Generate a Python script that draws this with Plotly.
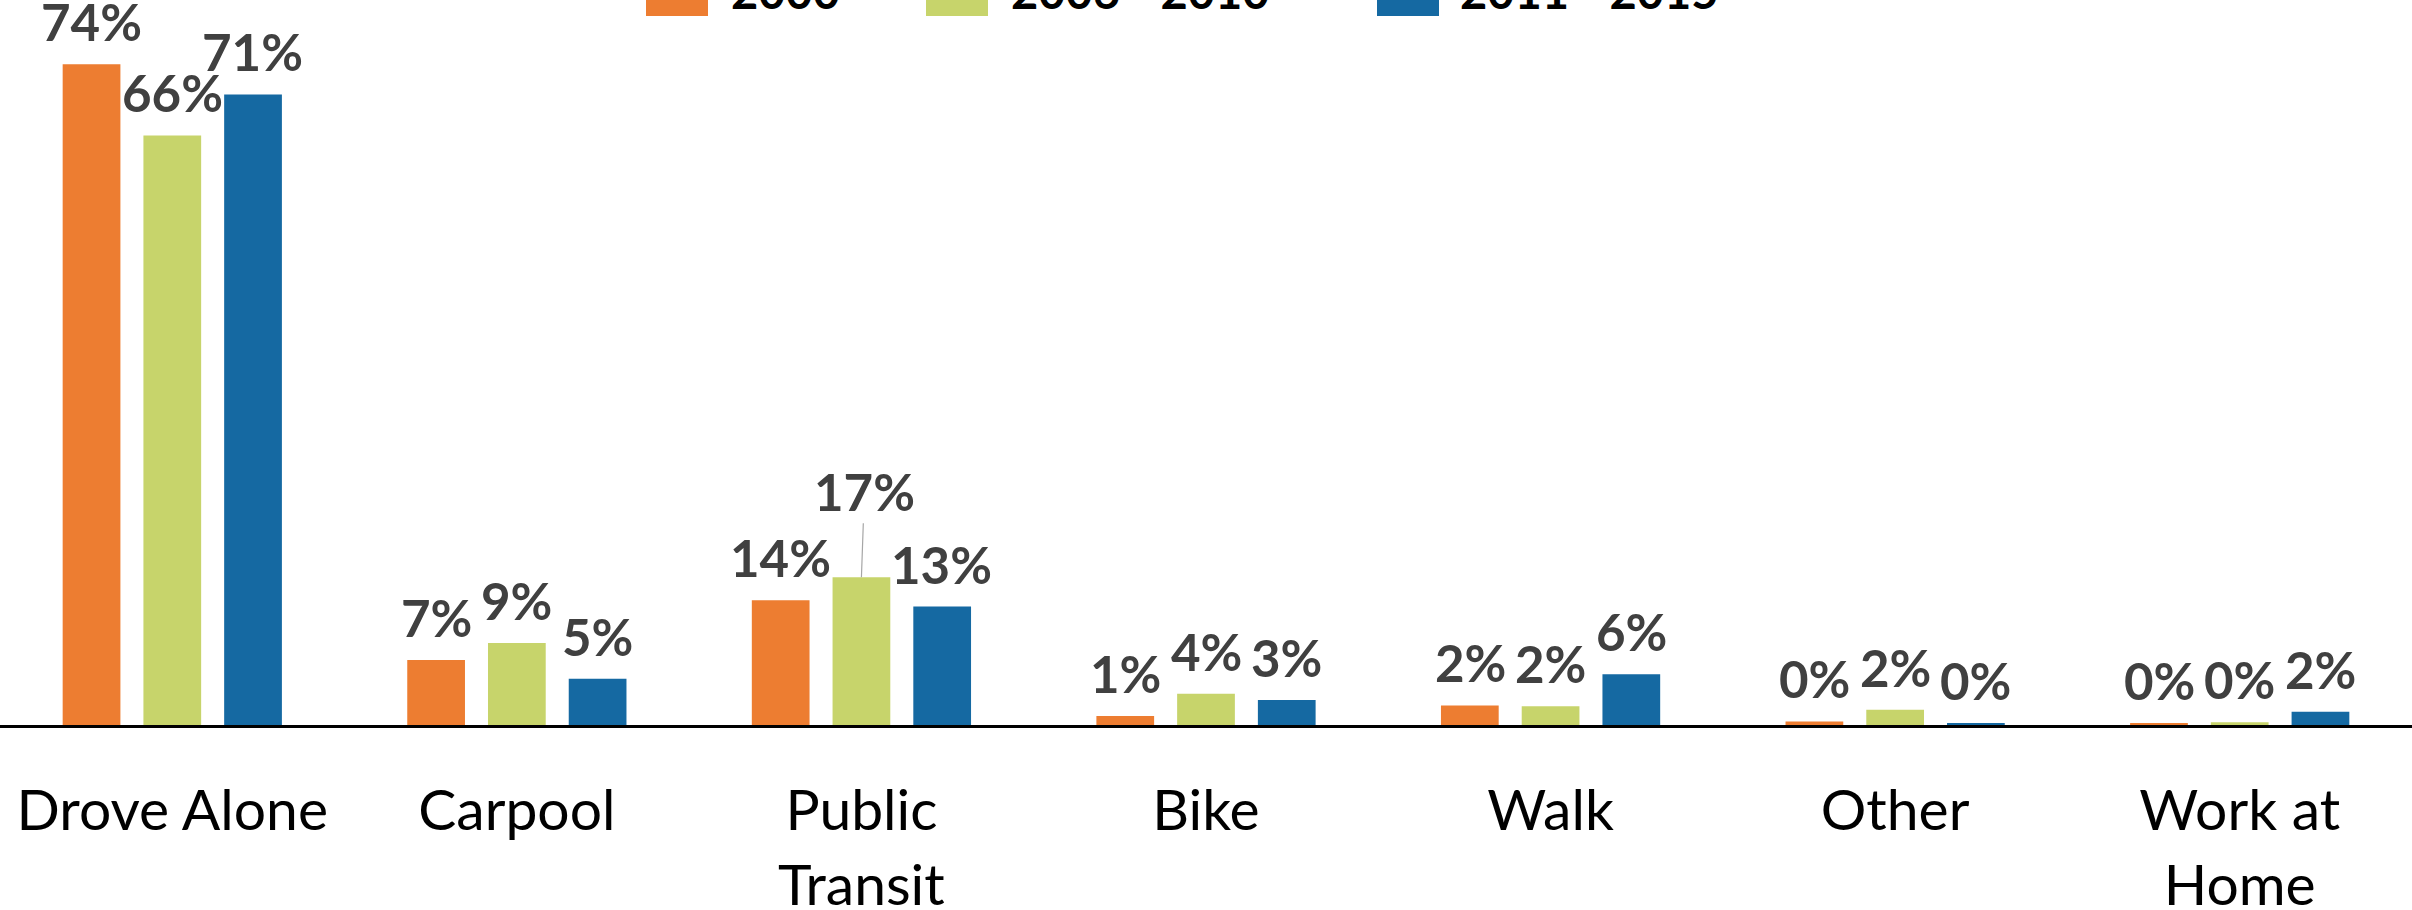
import plotly.graph_objects as go

categories = ["Drove Alone", "Carpool", "Public<br>Transit", "Bike", "Walk", "Other", "Work at<br>Home"]
series_names = ["2000", "2006 - 2010", "2011 - 2015"]
vals_2000 = [74.2, 7.3, 14.0, 1.0, 2.2, 0.4, 0.2]
vals_2010 = [66.2, 9.2, 16.6, 3.5, 2.1, 1.7, 0.3]
vals_2015 = [70.8, 5.2, 13.3, 2.8, 5.7, 0.2, 1.5]
colors = ["#ED7D31", "#C7D46B", "#1569A2"]

W, H = 2412, 910
slot = 80.5  # px between bars inside a group
label_font = dict(family="Lato", size=51, color="#404040")

fig = go.Figure()

all_vals = [vals_2000, vals_2010, vals_2015]
for i, (name, vals, col) in enumerate(zip(series_names, all_vals, colors)):
    fig.add_trace(go.Bar(
        x=categories, y=vals, name=name,
        marker=dict(color=col, line=dict(width=0)),
        showlegend=False,
    ))
    # data labels, a bit above the bar like Excel does
    for j, v in enumerate(vals):
        if i == 1 and j == 2:
            # this one was dragged up and has a leader line
            fig.add_annotation(
                x=categories[j], y=v, text="<b>%.0f%%</b>" % v, font=label_font,
                showarrow=True, arrowhead=0, arrowwidth=1.2, arrowcolor="#A6A6A6",
                ax=3, ay=-86,
            )
            continue
        fig.add_annotation(
            x=categories[j], y=v, xshift=(i - 1) * slot, yshift=10,
            yanchor="bottom", text="<b>%.0f%%</b>" % v, font=label_font,
            showarrow=False,
        )

# legend (mostly above the visible page)
leg_sq = [646, 926, 1377]
leg_tx = [729, 1009, 1458]
for name, col, sx, tx in zip(series_names, colors, leg_sq, leg_tx):
    fig.add_shape(
        type="rect", xref="paper", yref="paper",
        x0=sx / W, x1=(sx + 62) / W,
        ysizemode="pixel", yanchor=1, y0=-16, y1=47,
        fillcolor=col, line=dict(width=0),
    )
    fig.add_annotation(
        x=tx / W, y=1, xref="paper", yref="paper",
        xanchor="left", yanchor="bottom", yshift=-21,
        text="<b>" + name + "</b>", showarrow=False,
        font=dict(family="Lato", size=47, color="black"),
    )

fig.update_layout(
    width=W, height=H,
    barmode="group", bargap=0.297, bargroupgap=0.285,
    plot_bgcolor="white", paper_bgcolor="white",
    margin=dict(l=0, r=0, t=0, b=185),
)
fig.update_xaxes(
    showline=True, linecolor="black", linewidth=3, automargin=False,
    ticks="", tickfont=dict(family="Lato", size=57, color="black"),
    ticklabelstandoff=34,
)
fig.update_yaxes(visible=False, range=[0, 81.4], automargin=False)

fig.write_html("out.html", config={"displayModeBar": False},
               post_script="document.body.style.margin='0';")
